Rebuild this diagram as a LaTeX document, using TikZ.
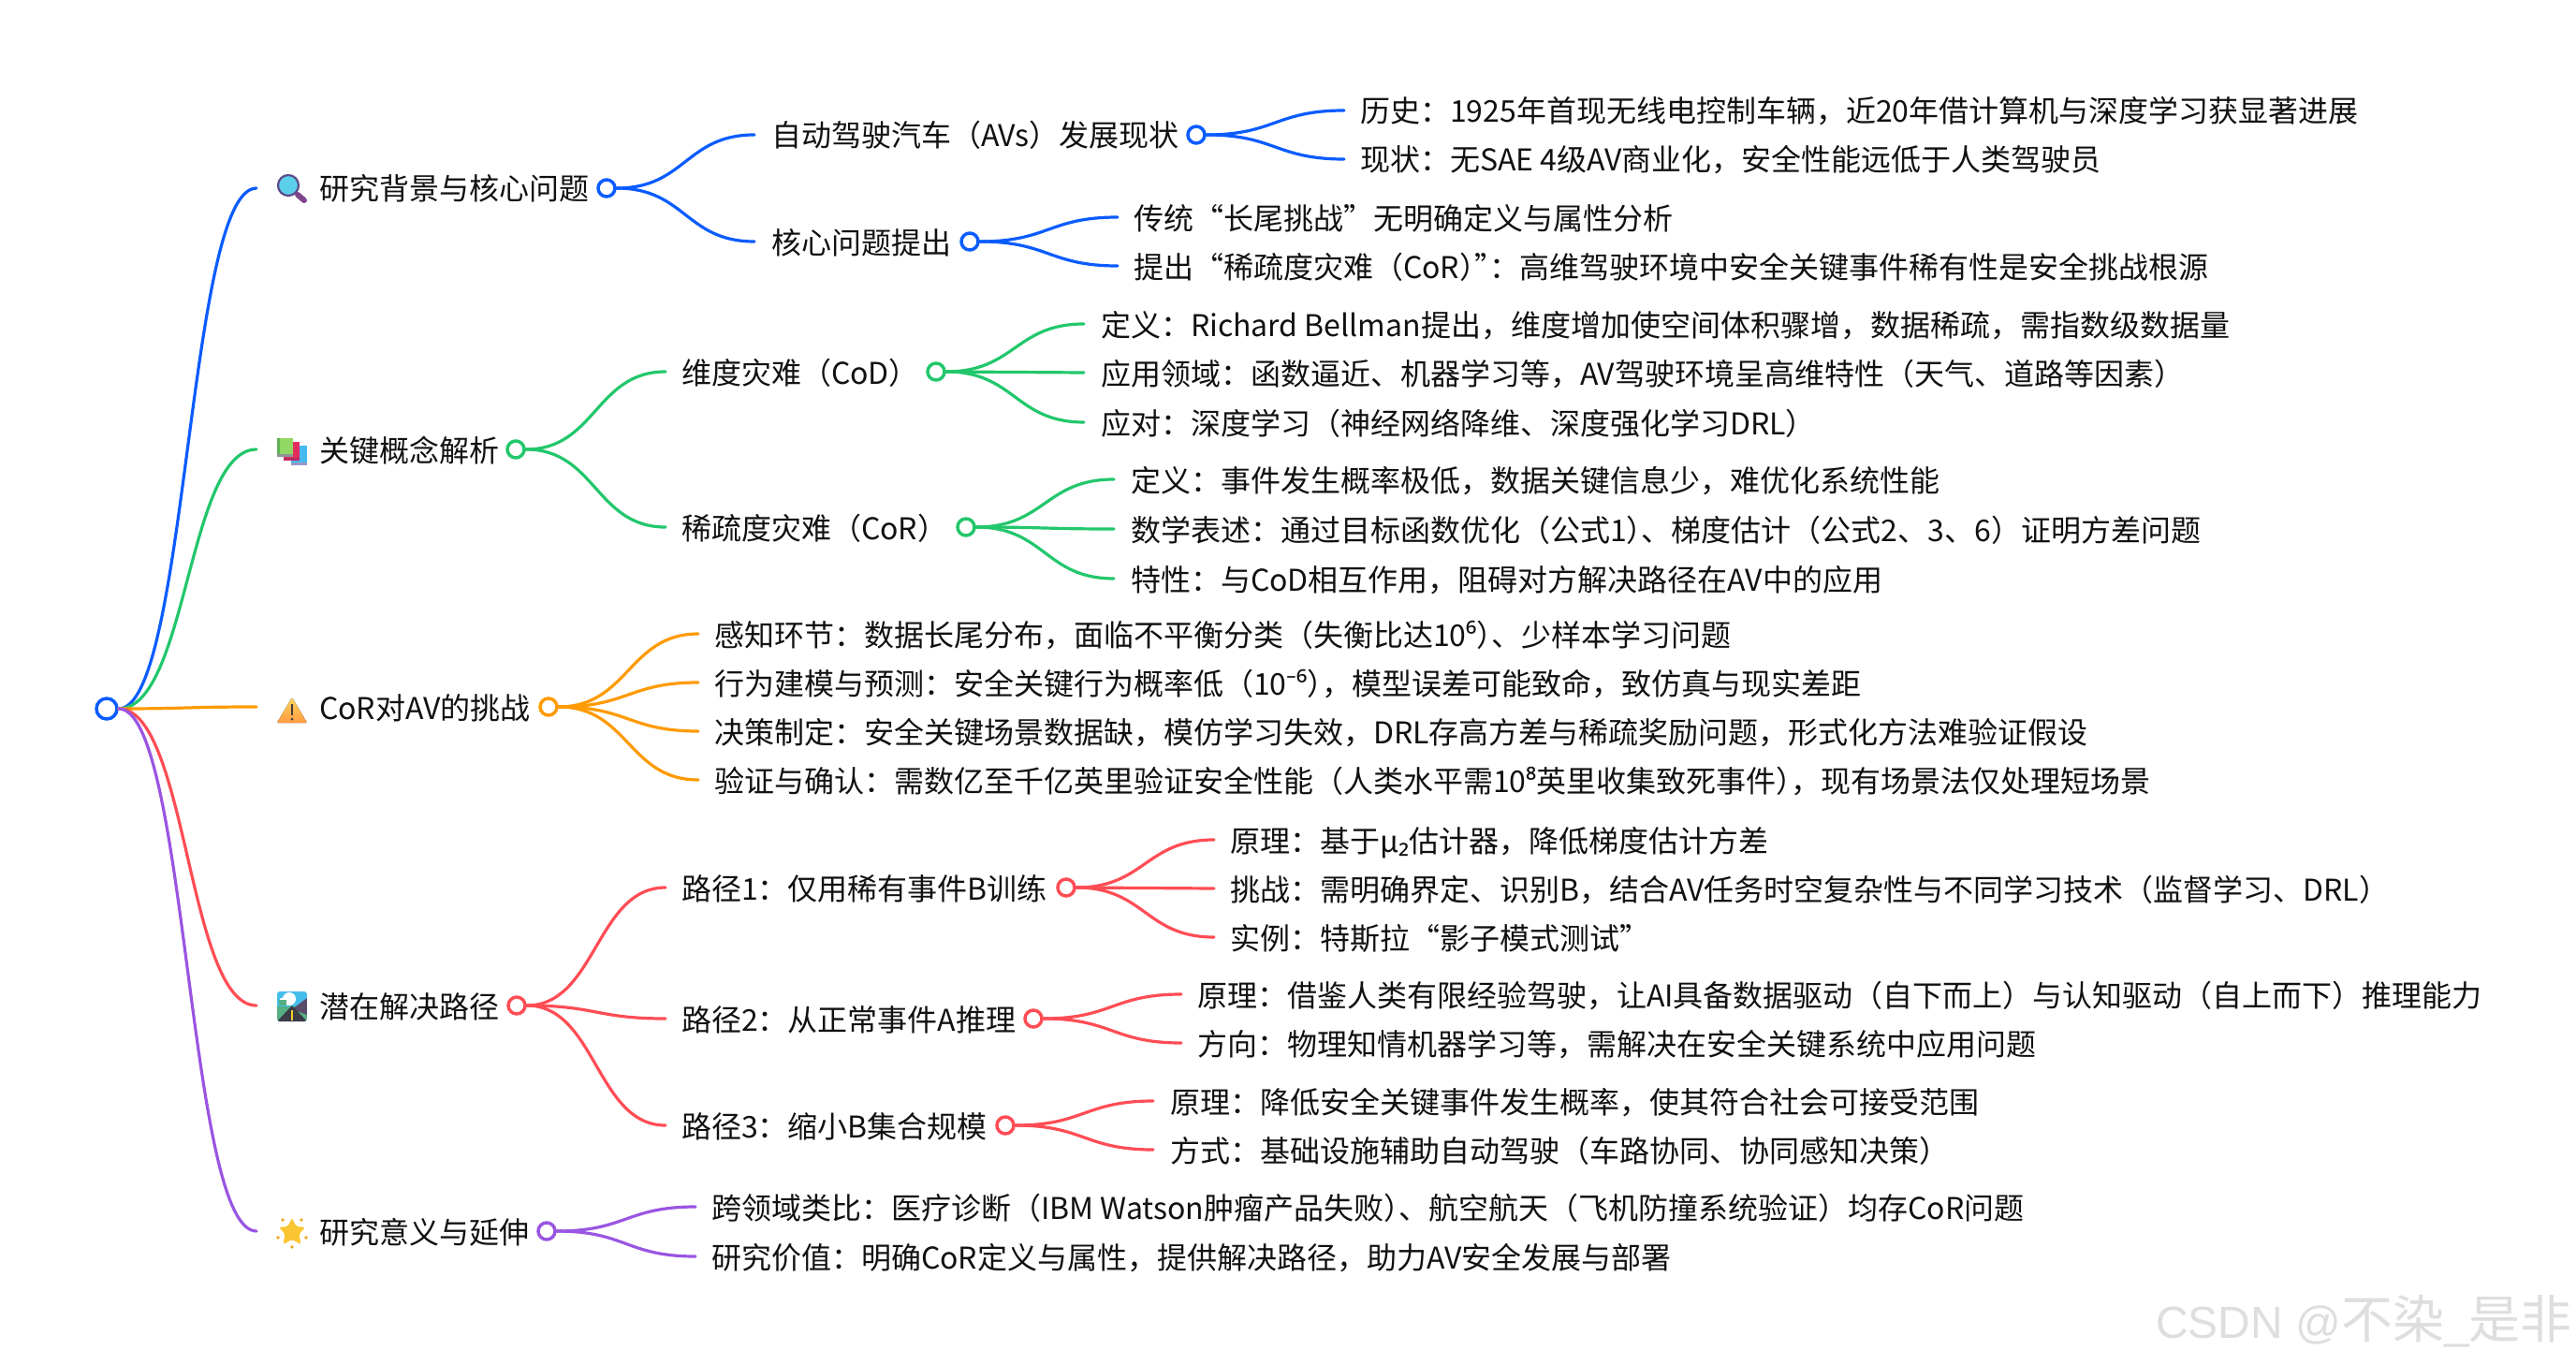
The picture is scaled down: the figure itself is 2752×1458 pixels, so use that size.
\documentclass[tikz,border=0pt]{standalone}
\usepackage{fontspec}
\setmainfont{Noto Sans CJK SC}
\newfontfamily\wmfont{Liberation Sans}
\newfontfamily\supfont{Noto Sans}
\usetikzlibrary{calc}
\definecolor{cblue}{HTML}{0A5CFF}
\definecolor{cgreen}{HTML}{22C76B}
\definecolor{corange}{HTML}{FF9A00}
\definecolor{cred}{HTML}{FF4D55}
\definecolor{cpurple}{HTML}{9A55E2}
\definecolor{ctext}{HTML}{111111}
\definecolor{mhandle}{RGB}{125,70,140}
\definecolor{mlens}{RGB}{92,208,234}
\definecolor{mring}{RGB}{95,75,140}
\definecolor{bkbluefoot}{RGB}{150,155,195}
\definecolor{bkblue}{RGB}{70,185,240}
\definecolor{bkredfoot}{RGB}{190,40,100}
\definecolor{bkred}{RGB}{228,45,95}
\definecolor{bkgreenfoot}{RGB}{140,150,150}
\definecolor{bkgreen}{RGB}{145,215,100}
\definecolor{bkgreenspine}{RGB}{95,175,85}
\definecolor{wtop}{RGB}{255,215,95}
\definecolor{wbot}{RGB}{255,155,65}
\definecolor{wmark}{RGB}{70,60,60}
\definecolor{rsky}{RGB}{70,190,235}
\definecolor{rgrass}{RGB}{85,175,130}
\definecolor{rhill}{RGB}{90,75,105}
\definecolor{rroad}{RGB}{60,60,70}
\definecolor{rline}{RGB}{250,205,50}
\definecolor{starc}{RGB}{251,197,49}
\definecolor{sparkc}{RGB}{235,165,25}
\definecolor{wmtext}{RGB}{222,222,222}
\tikzset{
  x=1pt,y=-1pt,
  lab/.style={anchor=west,inner sep=0pt,outer sep=0pt,text=ctext,text height=29pt,text depth=3pt,
    font=\fontsize{32}{38}\selectfont},
  dot/.style={circle,draw=#1,fill=white,line width=3.5pt,minimum size=18pt,inner sep=0pt},
  rootdot/.style={circle,draw=cblue,fill=white,line width=3.5pt,minimum size=22pt,inner sep=0pt},
  lnk/.style={draw=#1,line width=3.2pt,line cap=round},
}
\newcommand{\lnkto}[3]{\draw[lnk=#1] (#2) .. controls ($(#2)!.5!(#3 |- #2)$) and ($(#3)!.5!(#2 |- #3)$) .. (#3);}
\newcommand{\pad}[1]{\hspace*{#1pt}}
\newcommand{\hk}{\kern-16pt }
\newcommand{\sps}[1]{{\supfont #1}}
\begin{document}
\begin{tikzpicture}
\useasboundingbox (0,0) rectangle (2752,1458);
\fill[white] (0,0) rectangle (2752,1458);

% root
\node[rootdot] (root) at (114,757) {};

% level 1
\node[lab] (a) at (274,201) {\pad{67}研究背景与核心问题};
\node[dot=cblue] (ad) at (648,201) {};
\node[lab] (b) at (274,480) {\pad{67}关键概念解析};
\node[dot=cgreen] (bd) at (551,480) {};
\node[lab] (c) at (274,755) {\pad{67}CoR对AV的挑战};
\node[dot=corange] (cd) at (586,755) {};
\node[lab] (d) at (274,1074) {\pad{67}潜在解决路径};
\node[dot=cred] (dd) at (552,1074) {};
\node[lab] (e) at (274,1315) {\pad{67}研究意义与延伸};
\node[dot=cpurple] (ed) at (584,1315) {};

% level 2
\node[lab] (a1) at (806,144) {\pad{18}自动驾驶汽车（AVs）发展现状};
\node[dot=cblue] (a1d) at (1278,144) {};
\node[lab] (a2) at (806,258) {\pad{18}核心问题提出};
\node[dot=cblue] (a2d) at (1036,258) {};
\node[lab] (b1) at (711,397) {\pad{17}维度灾难（CoD）};
\node[dot=cgreen] (b1d) at (1000,397) {};
\node[lab] (b2) at (711,563) {\pad{17}稀疏度灾难（CoR）};
\node[dot=cgreen] (b2d) at (1032,563) {};
\node[lab] (d1) at (711,948) {\pad{17}路径1：仅用稀有事件B训练};
\node[dot=cred] (d1d) at (1139,948) {};
\node[lab] (d2) at (711,1088) {\pad{17}路径2：从正常事件A推理};
\node[dot=cred] (d2d) at (1104,1088) {};
\node[lab] (d3) at (711,1202) {\pad{17}路径3：缩小B集合规模};
\node[dot=cred] (d3d) at (1074,1202) {};

% level 3 : background
\node[lab] (a11) at (1436,118) {\pad{17}历史：1925年首现无线电控制车辆，近20年借计算机与深度学习获显著进展};
\node[lab] (a12) at (1436,170) {\pad{17}现状：无SAE 4级AV商业化，安全性能远低于人类驾驶员};
\node[lab] (a21) at (1194,232) {\pad{17}传统“长尾挑战”无明确定义与属性分析};
\node[lab] (a22) at (1194,284) {\pad{17}提出“稀疏度灾难（CoR）\hk”\hk：高维驾驶环境中安全关键事件稀有性是安全挑战根源};
% concepts
\node[lab] (b11) at (1158,346) {\pad{18}定义：Richard Bellman提出，维度增加使空间体积骤增，数据稀疏，需指数级数据量};
\node[lab] (b12) at (1158,398) {\pad{18}应用领域：函数逼近、机器学习等，AV驾驶环境呈高维特性（天气、道路等因素）};
\node[lab] (b13) at (1158,451) {\pad{18}应对：深度学习（神经网络降维、深度强化学习DRL）};
\node[lab] (b21) at (1190,512) {\pad{18}定义：事件发生概率极低，数据关键信息少，难优化系统性能};
\node[lab] (b22) at (1190,565) {\pad{18}数学表述：通过目标函数优化（公式1）\hk、梯度估计（公式2、3、6）证明方差问题};
\node[lab] (b23) at (1190,618) {\pad{18}特性：与CoD相互作用，阻碍对方解决路径在AV中的应用};
% challenges
\node[lab] (c1) at (746,677) {\pad{17}感知环节：数据长尾分布，面临不平衡分类（失衡比达10\sps{⁶}）\hk、少样本学习问题};
\node[lab] (c2) at (746,729) {\pad{17}行为建模与预测：安全关键行为概率低（10\sps{⁻⁶}）\hk，模型误差可能致命，致仿真与现实差距};
\node[lab] (c3) at (746,781) {\pad{17}决策制定：安全关键场景数据缺，模仿学习失效，DRL存高方差与稀疏奖励问题，形式化方法难验证假设};
\node[lab] (c4) at (746,833) {\pad{17}验证与确认：需数亿至千亿英里验证安全性能（人类水平需10\sps{⁸}英里收集致死事件）\hk，现有场景法仅处理短场景};
% paths
\node[lab] (d11) at (1297,897) {\pad{17}原理：基于μ\sps{₂}估计器，降低梯度估计方差};
\node[lab] (d12) at (1297,949) {\pad{17}挑战：需明确界定、识别B，结合AV任务时空复杂性与不同学习技术（监督学习、DRL）};
\node[lab] (d13) at (1297,1001) {\pad{17}实例：特斯拉“影子模式测试”};
\node[lab] (d21) at (1262,1062) {\pad{17}原理：借鉴人类有限经验驾驶，让AI具备数据驱动（自下而上）与认知驱动（自上而下）推理能力};
\node[lab] (d22) at (1262,1114) {\pad{17}方向：物理知情机器学习等，需解决在安全关键系统中应用问题};
\node[lab] (d31) at (1232,1176) {\pad{18}原理：降低安全关键事件发生概率，使其符合社会可接受范围};
\node[lab] (d32) at (1232,1228) {\pad{18}方式：基础设施辅助自动驾驶（车路协同、协同感知决策）};
% significance
\node[lab] (e1) at (743,1289) {\pad{17}跨领域类比：医疗诊断（IBM Watson肿瘤产品失败）\hk、航空航天（飞机防撞系统验证）均存CoR问题};
\node[lab] (e2) at (743,1342) {\pad{17}研究价值：明确CoR定义与属性，提供解决路径，助力AV安全发展与部署};

% connectors
\lnkto{cblue}{root.east}{a.west}
\lnkto{cgreen}{root.east}{b.west}
\lnkto{corange}{root.east}{c.west}
\lnkto{cred}{root.east}{d.west}
\lnkto{cpurple}{root.east}{e.west}
\lnkto{cblue}{ad.east}{a1.west}
\lnkto{cblue}{ad.east}{a2.west}
\lnkto{cblue}{a1d.east}{a11.west}
\lnkto{cblue}{a1d.east}{a12.west}
\lnkto{cblue}{a2d.east}{a21.west}
\lnkto{cblue}{a2d.east}{a22.west}
\lnkto{cgreen}{bd.east}{b1.west}
\lnkto{cgreen}{bd.east}{b2.west}
\lnkto{cgreen}{b1d.east}{b11.west}
\lnkto{cgreen}{b1d.east}{b12.west}
\lnkto{cgreen}{b1d.east}{b13.west}
\lnkto{cgreen}{b2d.east}{b21.west}
\lnkto{cgreen}{b2d.east}{b22.west}
\lnkto{cgreen}{b2d.east}{b23.west}
\lnkto{corange}{cd.east}{c1.west}
\lnkto{corange}{cd.east}{c2.west}
\lnkto{corange}{cd.east}{c3.west}
\lnkto{corange}{cd.east}{c4.west}
\lnkto{cred}{dd.east}{d1.west}
\lnkto{cred}{dd.east}{d2.west}
\lnkto{cred}{dd.east}{d3.west}
\lnkto{cred}{d1d.east}{d11.west}
\lnkto{cred}{d1d.east}{d12.west}
\lnkto{cred}{d1d.east}{d13.west}
\lnkto{cred}{d2d.east}{d21.west}
\lnkto{cred}{d2d.east}{d22.west}
\lnkto{cred}{d3d.east}{d31.west}
\lnkto{cred}{d3d.east}{d32.west}
\lnkto{cpurple}{ed.east}{e1.west}
\lnkto{cpurple}{ed.east}{e2.west}

% icon: magnifier
\draw[line width=6pt,line cap=round,draw=mhandle] (318,208) -- (325,214);
\filldraw[fill=mlens,draw=mring,line width=2.2pt] (308,198) circle (11);
% icon: books
\fill[bkbluefoot] (311,494) rectangle (328,497);
\fill[bkblue] (311,476) rectangle (328,494);
\fill[bkredfoot] (303,489) rectangle (320,492);
\fill[bkred] (303,472) rectangle (320,489);
\fill[bkgreenfoot] (296,485) rectangle (313,488);
\fill[bkgreen] (296,468) rectangle (313,485);
\fill[bkgreenspine] (296,468) rectangle (298.5,485);
% icon: warning
\fill[top color=wtop,bottom color=wbot,rounded corners=1pt] (312,745) -- (328,772) -- (296,772) -- cycle;
\draw[line width=2.4pt,draw=wmark] (312,752) -- (312,764);
\fill[wmark] (312,768) circle (1.5);
% icon: road
\begin{scope}
\clip[rounded corners=3pt] (296,1059) rectangle (328,1091);
\fill[rsky] (296,1059) rectangle (328,1075);
\fill[rgrass] (296,1075) rectangle (328,1091);
\fill[rhill] (328,1066) -- (312,1078) -- (328,1084) -- cycle;
\fill[white] (309,1067) circle (7);
\fill[white] (302,1069) circle (3.5);
\fill[rgrass] (298,1068) rectangle (306,1074);
\fill[rroad] (312,1074) -- (328,1091) -- (296,1091) -- cycle;
\draw[line width=1.5pt,draw=rline] (312,1079) -- (312,1090);
\end{scope}
% icon: star
\fill[starc,rounded corners=2pt] (312,1301) -- (316.5,1310) -- (326,1311) -- (319.5,1318) -- (321.5,1329) -- (312,1324) -- (302.5,1329) -- (304.5,1318) -- (298,1311) -- (307.5,1310) -- cycle;
\fill[sparkc] (302,1303) circle (1.8) (322,1303) circle (1.8) (297,1322) circle (1.8) (327,1322) circle (1.8) (312,1332) circle (1.8);

% watermark
\node[anchor=base west,inner sep=0pt,text=wmtext,font=\fontsize{48}{58}\selectfont] (wm) at (2303,1429) {{\wmfont CSDN @}\fontsize{55}{58}\selectfont 不染{\wmfont\fontsize{48}{58}\selectfont\_}是非};
\end{tikzpicture}
\end{document}
